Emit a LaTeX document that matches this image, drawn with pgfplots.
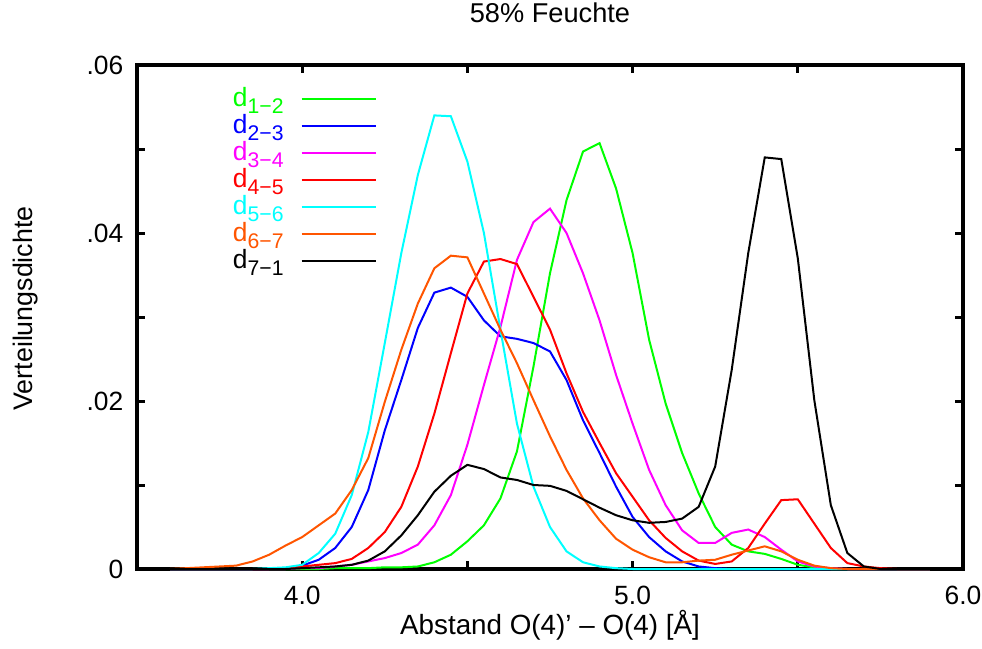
\documentclass[border=0pt]{standalone}
\usepackage{fontspec}
\setmainfont{Liberation Sans}
\usepackage{pgfplots}
\pgfplotsset{compat=1.18}
\usepackage{pgfplotstable}
\definecolor{colG}{RGB}{0,255,0}
\definecolor{colB}{RGB}{0,0,255}
\definecolor{colM}{RGB}{255,0,255}
\definecolor{colR}{RGB}{255,0,0}
\definecolor{colC}{RGB}{0,255,255}
\definecolor{colO}{RGB}{255,85,0}
\definecolor{colK}{RGB}{0,0,0}
\newcommand{\dsub}[2]{\textcolor{#1}{d\raisebox{-0.5ex}{\fontsize{10.6}{12}\selectfont #2}}}
\pgfplotstableread{
x     g       b       m       r       c       o       k
3.60  0       0       0       0       0       0       0
3.65  0       0       0       0       0       0.0001  0
3.70  0       0       0       0       0       0.0002  0
3.75  0       0       0       0       0       0.0003  0
3.80  0       0       0       0       0       0.0004  0
3.85  0       0       0       0       0       0.0009  0
3.90  0       0       0       0       0.0001  0.0017  0
3.95  0       0.0001  0       0.0001  0.0002  0.0028  0
4.00  0       0.0004  0.0001  0.0003  0.0005  0.0038  0.0001
4.05  0       0.0011  0.0001  0.0005  0.0019  0.0052  0.0002
4.10  0.0001  0.0025  0.0003  0.0007  0.0042  0.0066  0.0003
4.15  0.0001  0.0050  0.0005  0.0012  0.0088  0.0094  0.0005
4.20  0.0001  0.0094  0.0009  0.0025  0.0163  0.0132  0.0010
4.25  0.0002  0.0165  0.0013  0.0044  0.0269  0.0199  0.0021
4.30  0.0002  0.0225  0.0019  0.0074  0.0376  0.0261  0.0040
4.35  0.0003  0.0287  0.0029  0.0122  0.0469  0.0316  0.0064
4.40  0.0008  0.0329  0.0052  0.0185  0.0540  0.0358  0.0092
4.45  0.0017  0.0335  0.0088  0.0257  0.0539  0.0373  0.0111
4.50  0.0033  0.0324  0.0148  0.0328  0.0485  0.0371  0.0124
4.55  0.0052  0.0296  0.0219  0.0366  0.0400  0.0328  0.0119
4.60  0.0084  0.0277  0.0288  0.0369  0.0285  0.0285  0.0109
4.65  0.0140  0.0274  0.0368  0.0363  0.0173  0.0245  0.0106
4.70  0.0241  0.0269  0.0413  0.0324  0.0098  0.0201  0.0100
4.75  0.0352  0.0259  0.0429  0.0285  0.0050  0.0158  0.0099
4.80  0.0439  0.0225  0.0400  0.0233  0.0021  0.0118  0.0093
4.85  0.0497  0.0177  0.0352  0.0187  0.0008  0.0084  0.0083
4.90  0.0507  0.0138  0.0296  0.0150  0.0003  0.0058  0.0073
4.95  0.0453  0.0098  0.0231  0.0114  0.0001  0.0036  0.0064
5.00  0.0376  0.0062  0.0173  0.0086  0       0.0023  0.0058
5.05  0.0273  0.0038  0.0118  0.0058  0       0.0014  0.0055
5.10  0.0197  0.0021  0.0076  0.0037  0       0.0008  0.0056
5.15  0.0138  0.0009  0.0046  0.0021  0       0.0008  0.0060
5.20  0.0090  0.0003  0.0031  0.0010  0       0.0010  0.0074
5.25  0.0050  0.0001  0.0031  0.0006  0       0.0011  0.0122
5.30  0.0029  0       0.0043  0.0009  0       0.0017  0.0237
5.35  0.0021  0       0.0047  0.0025  0       0.0022  0.0376
5.40  0.0018  0       0.0038  0.0054  0       0.0027  0.0490
5.45  0.0012  0       0.0023  0.0082  0       0.0021  0.0488
5.50  0.0005  0       0.0009  0.0083  0       0.0011  0.0370
5.55  0.0002  0       0.0003  0.0054  0       0.0004  0.0201
5.60  0       0       0.0001  0.0025  0       0.0001  0.0076
5.65  0       0       0       0.0007  0       0       0.0019
5.70  0       0       0       0.0003  0       0       0.0003
5.75  0       0       0       0.0001  0       0       0
5.80  0       0       0       0       0       0       0
5.85  0       0       0       0       0       0       0
5.90  0       0       0       0       0       0       0
}\data
\begin{document}
\begin{tikzpicture}
\begin{axis}[
  scale only axis, width=413pt, height=252pt,
  xmin=3.5, xmax=6, ymin=0, ymax=0.06,
  clip=false,
  axis line style={line width=2pt},
  tick align=inside,
  major tick length=4pt,
  every tick/.style={black, line width=1.5pt},
  xtick={3.5,4,4.5,5,5.5,6},
  xticklabels={,4.0,,5.0,,6.0},
  ytick={0,0.01,0.02,0.03,0.04,0.05,0.06},
  yticklabels={0,,.02,,.04,,.06},
  scaled y ticks=false,
  tick label style={font=\fontsize{13.2}{15.8}\selectfont},
  xticklabel style={yshift=-5.2pt},
  yticklabel style={xshift=-3.3pt},
  title={58\% Feuchte},
  title style={at={(axis description cs:0.5,1)}, anchor=base, yshift=15.4pt, font=\fontsize{13.6}{16}\selectfont},
  xlabel={Abstand O(4)’ – O(4) [Å]},
  xlabel style={at={(axis description cs:0.5,0)}, anchor=base, yshift=-32.7pt, font=\fontsize{13.9}{16.4}\selectfont},
  ylabel={Verteilungsdichte},
  ylabel style={at={([xshift=-52pt]axis description cs:0,0.517)}, anchor=base, font=\fontsize{13.4}{16}\selectfont},
  legend plot pos=right,
  legend cell align=right,
  legend image code/.code={\draw[#1, line width=1pt] (0pt,0pt) -- (37pt,0pt);},
  legend style={draw=none, fill=none, inner sep=0pt, at={(axis description cs:0.2906,0.9593)}, anchor=north east,
    column sep=8.5pt, row sep=0pt, font=\fontsize{13.2}{15.8}\selectfont,
    nodes={inner sep=0pt, text height=10.25pt, text depth=3.25pt}},
  every axis plot/.append style={line width=1pt, no markers},
]
\addplot[colG] table[x=x,y=g] {\data};
\addplot[colB] table[x=x,y=b] {\data};
\addplot[colM] table[x=x,y=m] {\data};
\addplot[colR] table[x=x,y=r] {\data};
\addplot[colC] table[x=x,y=c] {\data};
\addplot[colO] table[x=x,y=o] {\data};
\addplot[colK] table[x=x,y=k] {\data};
\legend{\dsub{colG}{1−2},\dsub{colB}{2−3},\dsub{colM}{3−4},\dsub{colR}{4−5},\dsub{colC}{5−6},\dsub{colO}{6−7},\dsub{colK}{7−1}}
\end{axis}
\pgfresetboundingbox
\path (-68.5pt,-40pt) rectangle (422.5pt,284.5pt);
\end{tikzpicture}
\end{document}
